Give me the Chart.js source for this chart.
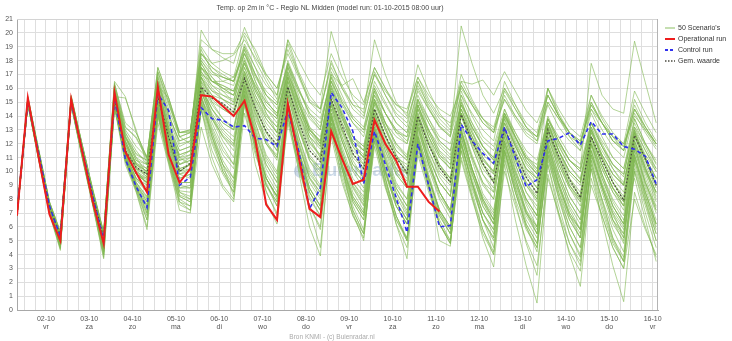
<!DOCTYPE html>
<html>
<head>
<meta charset="utf-8">
<script src="https://cdn.jsdelivr.net/npm/chart.js@4.4.1/dist/chart.umd.min.js"></script>
<style>
  html, body { margin: 0; padding: 0; background: #fff; }
  canvas { display: block; }
</style>
</head>
<body>
<canvas id="ens" width="732" height="341"></canvas>
<script>
// uren sinds 01-10 00:00 (stappen van 6 uur, model run 08:00)
const hours = [8,14,20,26,32,38,44,50,56,62,68,74,80,86,92,98,104,110,116,122,128,134,140,146,152,158,164,170,176,182,
  188,194,200,206,212,218,224,230,236,242,248,254,260,266,272,278,284,290,296,302,308,314,320,326,332,338,344,350,356,362];

const dayHours = [24,48,72,96,120,144,168,192,216,240,264,288,312,336,360];
const dayDates = ['02-10','03-10','04-10','05-10','06-10','07-10','08-10','09-10','10-10','11-10','12-10','13-10','14-10','15-10','16-10'];
const dayNames = ['vr','za','zo','ma','di','wo','do','vr','za','zo','ma','di','wo','do','vr'];

const operational = [6.8,15.3,11.0,6.9,5.0,15.2,11.5,7.8,4.8,15.7,11.4,9.9,8.5,16.1,11.2,9.2,10.2,15.5,15.4,14.7,
  14.0,15.1,12.3,7.6,6.5,14.9,11.0,7.3,6.7,12.9,10.9,9.1,9.4,13.7,12.0,10.8,8.9,8.9,7.8,7.1];

const control = [7.0,15.0,11.3,7.5,5.3,15.0,11.6,8.2,5.0,15.3,10.9,8.9,7.4,15.6,14.4,9.0,9.6,14.6,13.8,13.7,
  13.2,13.3,12.4,12.3,11.8,14.4,11.5,7.3,8.8,15.7,14.6,12.9,9.1,12.9,10.5,8.1,5.6,12.0,9.0,6.0,
  6.1,13.4,12.2,11.3,10.6,13.2,11.0,8.9,9.4,12.2,12.4,12.8,11.9,13.6,12.7,12.7,11.8,11.6,11.1,9.1];

const mean = [6.9,15.1,11.3,7.4,5.4,15.0,11.6,8.2,5.2,15.3,11.5,10.3,9.8,15.4,12.5,10.0,10.6,16.1,15.3,14.9,
  14.3,16.7,14.6,12.9,11.9,16.1,13.6,11.5,10.7,15.2,13.3,11.3,10.2,14.5,12.6,11.0,9.9,14.0,11.9,10.3,
  9.2,14.1,12.2,10.6,9.2,13.1,11.3,9.6,8.4,13.0,11.1,9.4,8.1,12.5,10.8,9.2,7.9,12.6,10.9,9.0];

// 50 scenario's
const scenarios = [
  [6.9,15.2,11.3,7.5,5.3,15.2,11.7,8.2,5.2,15.6,12.0,10.6,10.2,16.0,13.2,11.5,11.8,17.5,16.8,16.0,15.5,18.2,16.0,14.5,13.8,17.6,15.2,13.0,12.2,16.5,14.2,12.5,11.8,15.8,13.5,12.0,11.0,15.2,13.0,11.4,10.5,15.0,13.2,11.8,10.8,14.2,12.4,10.8,9.8,13.8,11.9,10.4,9.4,13.5,11.8,10.2,9.0,13.2,11.5,10.0],
  [6.8,15.0,11.0,7.2,4.9,14.9,11.4,7.9,4.6,15.0,11.2,9.2,8.1,14.6,11.5,8.8,9.0,15.2,13.8,12.6,11.9,15.6,12.8,10.5,9.2,14.8,12.0,9.6,8.5,13.9,11.2,8.9,7.6,13.1,10.8,8.5,7.0,12.6,10.2,8.0,6.6,12.9,10.8,8.4,7.2,12.0,9.8,7.6,6.0,11.8,9.6,7.3,5.8,11.2,9.0,7.0,5.2,11.5,9.2,7.4],
  [7.0,15.3,11.4,7.6,5.5,15.3,11.8,8.4,5.4,16.0,12.5,11.3,10.8,16.8,14.0,12.2,12.5,20.2,18.8,18.2,17.8,20.4,18.5,16.8,15.5,19.2,17.0,15.0,14.2,18.0,16.0,14.5,13.8,17.2,15.5,14.0,13.2,16.5,14.6,13.3,12.6,16.2,14.8,13.5,12.8,15.2,13.8,12.6,12.0,14.8,13.2,12.2,11.5,14.5,13.0,11.8,11.0,14.2,12.8,11.6],
  [6.9,15.1,11.2,7.4,5.0,15.0,11.5,8.0,4.8,15.2,11.4,9.8,9.5,15.8,12.8,10.5,10.8,16.5,15.5,15.2,14.8,17.0,14.8,12.8,11.5,16.2,13.5,11.0,10.2,15.0,12.8,10.8,9.5,14.2,12.0,10.2,9.3,13.8,11.5,9.6,8.5,14.5,12.5,10.5,9.4,13.2,11.0,9.2,8.0,12.8,10.8,9.0,7.8,12.4,10.5,8.8,7.5,12.2,10.3,8.5],
  [6.8,14.9,10.9,7.0,4.4,14.8,11.1,7.6,3.8,14.7,10.8,8.6,6.0,14.0,10.6,7.6,7.2,14.5,11.5,9.8,8.5,15.0,11.5,8.6,6.8,14.0,10.5,7.5,6.0,13.2,10.2,7.2,5.5,12.8,9.5,6.8,5.0,12.2,9.0,6.2,4.8,12.0,9.2,6.5,4.5,11.5,8.5,6.0,4.2,11.2,8.2,5.5,3.8,10.8,8.0,5.2,3.5,10.5,7.8,5.0],
  [7.0,15.2,11.5,7.8,5.6,15.4,11.9,8.6,5.5,16.4,13.2,12.4,10.9,17.2,15.0,12.8,12.9,18.8,17.2,16.5,16.2,19.0,17.0,15.2,14.0,17.8,15.5,13.2,12.0,16.8,14.5,12.0,11.2,16.0,14.2,12.8,12.5,15.5,13.8,12.2,11.5,15.8,14.0,12.5,11.8,14.5,12.8,11.2,10.2,14.0,12.2,10.8,10.0,13.5,11.8,10.5,9.6,13.8,12.0,10.6],
  [6.9,15.0,11.1,7.3,5.1,15.1,11.6,8.1,5.0,15.4,15.3,13.0,10.5,16.2,15.3,12.5,12.0,17.0,16.5,16.2,15.8,17.8,16.2,14.8,14.0,16.8,14.5,12.5,11.6,15.5,13.8,12.2,11.5,15.0,13.5,12.5,12.0,14.5,13.0,11.8,11.0,14.2,12.5,11.2,10.5,13.5,12.0,10.6,9.8,13.2,11.8,10.4,9.5,13.0,11.5,10.2,9.2,12.8,11.2,10.0],
  [6.8,15.0,11.0,7.2,4.6,14.9,11.3,7.8,4.2,15.0,11.0,9.0,7.0,14.5,11.2,8.5,8.0,15.5,12.5,10.0,8.5,15.8,12.0,9.2,7.5,14.2,10.0,6.0,3.9,13.0,9.5,6.8,5.2,12.2,9.0,6.5,5.0,12.0,8.8,6.2,4.8,12.5,9.5,7.0,5.5,12.8,10.2,8.0,6.8,13.0,10.8,9.0,8.0,12.5,10.5,8.8,7.5,12.0,10.0,8.4],
  [7.0,15.3,11.3,7.5,5.2,15.2,11.8,8.3,5.3,15.8,12.5,11.0,9.8,16.5,13.5,11.0,10.5,18.0,16.8,15.8,15.0,18.8,16.5,14.2,12.8,17.5,15.0,12.5,11.0,16.2,14.0,11.8,10.5,15.2,13.2,11.2,9.8,14.8,12.5,10.5,9.2,15.2,13.0,11.0,9.8,14.0,12.0,10.0,8.8,13.5,11.5,9.5,8.2,13.0,11.0,9.2,8.0,12.8,10.8,9.0],
  [6.9,15.1,11.2,7.5,5.2,15.0,11.5,8.0,5.0,15.0,11.3,9.5,9.0,15.5,12.0,10.0,10.5,16.8,15.5,14.8,14.2,17.2,15.2,13.5,12.5,16.5,14.2,12.5,11.8,17.0,16.2,16.7,15.0,17.5,16.0,14.5,13.8,16.2,14.8,13.5,12.8,16.5,16.3,16.6,15.5,17.2,15.8,14.4,13.5,15.5,14.0,12.8,12.0,14.8,13.5,12.2,11.5,14.5,13.2,12.0],
  [6.8,14.9,10.9,7.1,4.6,15.0,11.3,7.8,4.5,15.0,11.0,9.2,7.8,14.8,11.5,9.0,8.8,15.8,13.5,11.8,10.5,16.0,12.5,9.5,8.2,15.2,11.5,8.5,7.2,14.0,10.8,8.2,7.0,13.2,10.0,7.5,6.2,12.5,9.2,6.8,5.5,11.8,8.5,5.8,4.2,10.5,6.5,3.2,0.5,9.8,6.8,4.2,2.8,10.2,7.2,4.8,3.5,10.8,8.0,5.5],
  [7.0,15.2,11.4,7.6,5.4,15.2,11.7,8.3,5.2,15.5,12.0,10.2,9.0,15.2,12.2,9.8,9.5,16.2,14.0,12.5,11.8,16.5,13.5,11.2,10.0,15.5,12.5,10.2,9.0,14.5,11.8,9.5,8.5,13.8,11.2,9.0,8.0,13.2,10.5,8.2,7.0,12.5,9.8,7.5,6.2,11.5,8.8,6.2,4.8,10.5,7.0,4.0,1.7,9.5,6.8,4.5,3.0,10.0,7.5,5.0],
  [6.9,15.1,11.2,7.3,5.0,15.1,11.5,8.0,4.9,15.2,11.5,9.8,9.2,15.6,12.5,10.5,10.8,16.8,15.0,13.8,13.0,17.0,14.5,12.0,10.8,16.0,13.2,10.8,9.5,14.8,12.2,10.0,8.8,14.0,11.5,9.2,8.0,13.5,10.8,8.5,7.2,13.0,10.2,8.0,6.5,12.2,9.5,7.2,5.5,11.5,8.5,6.0,4.5,10.2,6.5,3.2,0.6,8.5,6.0,3.8],
  [6.9,15.2,11.3,7.4,5.2,15.2,11.6,8.2,5.1,15.5,12.2,10.5,9.8,16.2,13.0,11.2,11.5,17.2,16.0,15.2,14.5,17.5,15.5,13.8,12.8,16.8,14.5,12.8,12.0,16.0,14.0,12.5,11.5,15.2,13.5,12.0,11.2,14.8,13.0,11.5,10.8,14.5,12.8,11.5,10.5,14.0,12.5,11.0,10.0,13.8,12.2,10.8,10.2,17.8,15.5,14.5,14.2,19.4,16.4,13.5],
  [7.0,15.3,11.5,7.7,5.5,15.3,11.9,8.5,5.5,16.2,12.8,11.5,10.5,16.5,14.2,12.0,12.2,18.5,17.5,16.8,16.5,19.2,17.5,15.5,14.5,18.0,16.0,14.0,13.0,17.2,15.5,13.8,13.0,16.5,15.0,13.5,12.8,16.0,14.5,13.2,12.5,20.5,17.8,15.5,14.2,16.0,14.5,13.2,12.5,15.5,14.0,12.8,12.0,15.0,13.5,12.5,11.8,14.8,13.2,12.0],
  [6.9,15.2,11.4,7.6,5.3,15.3,11.8,8.4,5.3,15.8,12.5,10.8,10.5,16.8,14.5,12.5,12.8,19.0,17.8,17.2,16.8,19.8,18.0,16.5,15.2,19.5,17.2,15.5,14.5,20.1,17.5,15.2,14.2,19.5,17.0,15.0,14.0,17.7,15.8,14.2,13.2,17.0,15.2,13.8,12.8,16.5,14.8,13.2,12.2,16.0,14.2,12.8,11.8,15.5,13.8,12.5,11.5,15.2,13.5,12.2],
  [6.8,14.9,11.0,7.1,4.5,14.9,11.2,7.6,4.0,14.8,10.8,8.8,6.5,14.2,10.8,8.0,7.5,14.8,12.2,10.2,9.0,15.2,11.8,9.0,7.5,14.5,11.0,8.2,6.8,13.5,10.2,7.5,5.8,12.8,9.5,6.8,5.0,12.0,8.8,6.2,4.8,11.5,8.2,5.2,3.1,10.8,8.0,5.8,4.5,11.2,8.5,6.5,5.2,11.5,9.0,7.0,5.8,11.8,9.2,7.2],
  [6.8,15.0,11.0,7.2,4.8,14.9,11.3,7.8,4.5,15.0,11.2,9.0,8.0,14.9,11.8,9.2,9.2,15.8,13.8,12.2,11.0,16.0,12.8,10.2,8.8,14.8,11.5,8.8,7.5,13.8,10.5,7.8,6.5,12.8,9.5,6.2,3.7,12.5,9.5,7.0,5.5,13.0,10.2,8.0,6.8,12.5,10.0,8.0,6.8,12.2,9.8,7.8,6.5,12.0,9.5,7.5,6.2,11.8,9.2,7.2],
  [6.9,15.1,11.1,7.3,5.0,15.0,11.4,7.9,4.7,15.1,11.2,9.4,8.5,15.0,12.0,9.5,9.8,16.0,14.2,13.0,12.2,16.2,13.5,11.0,9.8,15.0,12.2,9.8,8.8,14.2,11.5,9.2,8.2,13.5,10.8,8.5,7.2,12.5,9.2,5.0,4.6,12.8,10.0,7.5,6.2,12.0,9.5,7.2,6.0,11.8,9.2,7.0,5.8,11.5,9.0,6.8,5.5,11.2,8.8,6.5],
  [7.0,15.2,11.3,7.5,5.2,15.1,11.6,8.1,5.0,15.3,11.6,10.0,9.2,15.3,12.2,9.8,10.2,16.4,14.8,13.8,13.2,16.8,14.2,12.2,11.0,15.8,13.0,10.8,9.8,14.8,12.2,10.2,9.2,14.2,11.8,9.8,8.8,13.8,11.2,9.2,8.2,13.5,11.0,9.0,8.0,12.8,10.5,8.5,7.5,12.5,10.2,8.2,7.0,12.0,9.8,7.8,6.5,9.5,6.5,3.5],
  [7.0,15.4,11.6,7.8,5.7,15.5,12.0,8.7,5.6,16.5,15.4,12.8,11.0,17.5,15.3,12.8,13.0,18.5,17.8,18.0,18.4,19.5,18.2,17.0,16.0,18.5,16.8,15.0,14.5,17.5,16.0,14.8,14.5,17.0,15.8,14.8,14.5,16.8,15.5,14.5,14.0,16.0,14.8,13.8,13.0,15.2,14.0,13.0,12.5,15.0,13.8,12.8,12.2,14.5,13.5,12.5,12.0,14.0,13.0,12.0],
  [6.8,15.0,11.1,7.3,4.9,15.0,11.4,7.9,4.8,15.1,11.3,9.5,8.8,15.2,12.0,9.8,10.0,16.0,14.0,12.8,12.0,16.5,14.0,12.0,11.2,16.8,14.2,12.2,11.0,15.0,12.5,10.5,9.5,14.0,11.8,10.0,9.0,13.5,11.0,9.2,8.2,14.2,11.8,9.8,8.5,13.0,10.8,9.0,7.8,12.8,10.5,8.8,7.5,12.2,10.2,8.5,7.2,12.0,10.0,8.2],
  [6.9,15.0,11.0,7.2,4.7,14.9,11.2,7.7,4.4,14.9,10.9,8.9,7.2,14.3,11.0,8.2,7.8,15.0,12.8,10.5,9.2,14.8,10.5,7.8,6.2,13.8,10.5,8.0,6.8,13.0,10.2,7.8,6.5,12.5,9.8,7.5,6.2,12.2,9.5,7.2,6.0,12.0,9.2,7.0,5.8,11.5,9.0,6.8,5.5,11.2,8.8,6.5,5.2,11.0,8.5,6.2,5.0,10.8,8.2,6.0],
  [7.0,15.3,11.4,7.6,5.4,15.3,11.8,8.4,5.4,15.6,12.2,10.5,10.0,16.0,13.0,11.0,11.2,17.8,16.5,16.0,15.5,18.0,16.0,14.5,13.5,17.2,15.0,13.0,12.0,15.8,13.8,12.0,11.0,15.0,13.0,11.2,10.2,14.2,12.2,10.5,9.5,14.0,12.0,10.2,9.2,13.2,11.2,9.5,8.5,13.0,11.0,9.2,8.2,12.5,10.5,8.8,7.8,12.5,10.5,8.8],
  [6.8,14.9,10.9,7.0,4.5,14.9,11.2,7.7,4.3,14.8,10.8,8.7,6.8,14.2,10.9,7.8,7.2,13.2,10.5,8.8,7.8,14.2,11.2,9.0,7.8,14.5,11.5,9.2,8.0,14.0,11.2,9.0,7.8,13.2,10.8,8.8,7.5,13.0,10.5,8.5,7.2,12.8,10.2,8.2,7.0,12.2,9.8,7.8,6.5,12.0,9.5,7.5,6.2,11.8,9.2,7.2,6.0,11.5,9.0,7.0],
  [6.9,15.1,11.2,7.4,5.1,15.1,11.6,8.1,5.1,15.3,11.8,10.2,9.8,15.8,12.5,10.5,11.0,17.0,15.8,15.5,15.2,17.5,15.5,14.0,13.2,16.5,14.5,12.8,11.8,15.5,13.5,12.0,11.0,14.5,12.5,11.0,10.0,14.0,12.0,10.5,9.5,14.2,12.2,10.5,9.2,13.5,11.5,9.8,8.8,13.2,11.2,9.5,8.5,12.8,11.0,9.2,8.2,12.5,10.8,9.0],
  [7.0,15.2,11.4,7.6,5.5,15.3,11.9,8.5,5.4,15.9,12.8,11.2,10.8,16.5,14.0,12.2,12.5,18.5,17.5,17.0,16.5,19.0,17.5,16.2,15.5,19.5,18.0,16.5,15.5,18.5,16.8,15.5,14.8,17.5,16.0,14.8,14.2,16.8,15.2,14.0,13.5,16.5,15.0,13.8,13.2,15.8,14.5,13.2,12.5,15.5,14.0,12.8,12.2,15.0,13.5,12.2,11.5,14.5,13.0,11.8],
  [6.8,14.9,11.0,7.1,4.6,14.9,11.3,7.8,4.4,14.8,10.9,8.8,7.5,14.5,11.2,8.5,8.2,15.2,12.8,10.8,9.5,15.5,11.8,9.0,7.8,14.0,10.5,7.2,4.5,12.5,9.2,6.8,5.5,11.8,8.8,6.5,5.2,11.2,8.5,6.2,5.0,10.8,8.0,5.5,4.0,10.0,7.5,5.0,3.2,9.5,7.0,4.8,3.5,9.0,6.8,4.5,3.0,8.0,5.8,4.0],
  [6.9,15.2,11.3,7.5,5.3,15.2,11.7,8.2,5.2,15.4,12.0,10.4,9.6,15.9,12.8,10.8,11.2,17.2,16.2,15.8,15.5,17.8,15.8,14.5,13.8,17.0,14.8,13.0,12.2,15.0,13.0,11.5,10.8,14.5,12.5,11.0,10.5,14.8,12.8,11.2,10.2,15.5,13.5,11.8,10.8,14.2,12.2,10.5,9.5,13.5,11.5,10.0,9.2,13.2,11.2,9.8,9.0,13.0,11.0,9.5],
  [6.8,15.0,11.1,7.3,5.0,15.0,11.5,8.0,4.9,15.2,11.5,9.8,9.2,15.5,12.5,10.2,10.5,16.5,15.0,14.5,14.0,16.8,14.5,12.8,11.8,15.8,13.2,11.2,10.2,14.8,12.5,10.5,9.8,14.2,12.0,10.2,9.5,13.8,11.5,9.8,9.0,13.2,11.0,9.2,8.5,12.8,10.8,9.0,8.0,12.5,10.5,8.8,7.8,12.0,10.2,8.5,7.5,12.2,10.2,8.5],
  [6.8,14.8,10.8,6.9,4.3,14.8,11.0,7.5,3.7,14.6,10.5,8.5,5.8,13.5,10.5,7.2,7.0,15.0,12.5,10.5,8.2,15.2,12.0,9.5,8.2,14.8,11.8,9.5,8.5,14.2,11.5,9.2,8.0,13.8,11.0,8.8,7.5,13.2,10.5,8.5,7.0,12.8,10.2,8.0,6.5,12.5,10.0,8.0,6.8,12.2,9.8,7.8,6.5,12.0,9.5,7.5,6.2,11.8,9.5,7.5],
  [7.0,15.3,11.5,7.7,5.6,15.4,12.0,8.6,5.6,16.0,13.0,11.8,11.0,17.0,14.8,12.8,13.0,18.2,17.2,16.8,16.5,18.5,16.8,15.5,14.8,17.8,16.0,14.2,13.5,16.5,14.8,13.5,12.8,15.8,14.2,13.0,12.5,15.2,13.8,12.5,12.0,14.8,13.5,12.2,11.5,14.2,12.8,11.5,10.8,13.8,12.5,11.2,10.5,13.5,12.2,11.0,10.2,13.2,12.0,10.8],
  [6.9,15.1,11.2,7.4,5.2,15.1,11.6,8.2,5.2,15.3,11.6,10.0,9.5,15.4,12.3,10.0,10.5,16.2,14.5,13.5,13.0,16.5,14.2,12.5,11.5,16.0,13.8,11.8,10.8,15.2,13.0,11.0,10.2,14.8,12.5,10.5,9.8,14.2,12.0,10.0,9.2,14.0,11.8,9.8,8.8,13.2,11.0,9.2,8.2,13.0,10.8,9.0,8.0,12.5,10.5,8.8,7.8,12.2,10.2,8.5],
  [7.0,15.3,11.5,7.7,5.5,15.4,11.9,8.6,5.5,16.3,13.5,12.8,11.0,17.5,15.3,12.8,12.8,17.8,16.5,16.5,16.8,18.5,17.0,15.5,14.8,17.5,15.8,14.5,13.8,16.5,15.0,13.8,13.0,15.5,14.2,13.0,12.2,15.0,13.5,12.2,11.5,14.8,13.2,11.8,11.0,14.0,12.5,11.0,10.5,13.5,12.0,10.8,10.2,13.2,11.8,10.5,9.8,13.0,11.5,10.2],
  [6.8,15.0,11.0,7.2,4.8,15.0,11.3,7.8,4.6,15.0,11.1,9.2,8.2,14.8,11.6,9.2,9.2,15.8,13.8,12.5,11.5,16.2,13.0,10.5,9.2,15.0,12.0,9.5,8.2,13.8,10.2,7.0,5.0,12.8,10.0,7.8,6.5,12.2,9.5,7.2,6.0,12.5,9.8,7.8,6.5,11.8,9.2,7.0,5.8,11.5,9.0,6.8,5.5,11.2,8.8,6.5,5.2,11.0,8.5,6.2],
  [6.9,15.2,11.3,7.5,5.3,15.2,11.7,8.3,5.2,15.5,12.0,10.5,10.0,16.0,13.0,11.0,11.5,17.5,16.5,16.2,15.8,18.5,16.5,15.0,14.2,17.2,15.0,13.2,12.5,16.2,14.2,12.5,11.8,15.5,13.5,11.8,11.0,14.8,12.8,11.2,10.5,14.5,12.5,10.8,10.0,13.8,11.8,10.2,9.2,13.5,11.5,9.8,9.0,13.0,11.0,9.5,8.5,12.8,10.8,9.2],
  [6.9,15.1,11.3,7.4,5.2,15.1,11.6,8.2,5.1,15.3,11.5,10.3,9.8,15.4,12.5,10.0,10.6,16.1,15.3,14.9,14.3,16.7,14.6,12.9,11.9,16.1,13.6,11.5,10.7,15.2,13.3,11.3,10.2,14.5,12.6,11.0,9.9,14.0,11.9,10.3,9.2,14.1,12.2,10.6,9.2,13.1,11.3,9.6,8.4,13.0,11.1,9.4,8.1,12.5,10.8,9.2,7.9,12.6,10.9,9.0],
  [6.8,15.0,11.0,7.2,4.8,14.9,11.3,7.8,4.5,15.0,11.0,9.0,7.8,14.6,11.4,8.8,8.8,15.5,13.2,11.5,10.5,15.8,12.5,9.8,8.5,14.8,11.5,8.8,7.5,14.0,11.0,8.5,7.2,13.2,10.2,7.8,6.5,12.8,9.8,7.2,5.8,12.2,9.2,6.5,5.0,11.0,7.8,4.8,2.5,10.5,7.5,4.8,3.2,10.8,7.8,5.2,3.8,11.2,8.2,5.8],
  [7.0,15.2,11.4,7.6,5.4,15.3,11.8,8.5,5.3,15.7,12.4,10.8,10.2,16.4,13.5,11.5,11.8,17.5,16.5,16.0,15.8,18.0,16.2,15.0,14.2,17.0,15.2,13.8,13.0,16.8,15.2,14.0,13.2,16.2,14.8,13.5,12.8,15.8,14.5,13.2,12.5,15.5,14.2,13.0,12.2,16.0,14.8,13.5,12.8,16.0,14.5,13.2,12.5,15.5,14.0,12.8,12.0,15.8,14.2,12.8],
  [6.8,14.9,11.0,7.1,4.6,14.9,11.2,7.7,4.2,14.9,10.9,8.8,7.4,14.4,11.0,8.3,8.0,15.0,12.5,10.5,9.5,15.5,12.0,9.5,8.0,14.5,11.2,8.5,7.2,13.5,10.5,8.0,6.8,12.5,9.0,6.2,4.5,11.5,8.8,6.8,5.5,11.0,8.2,5.8,4.0,11.5,8.8,6.5,5.2,12.0,9.2,7.0,5.8,12.5,9.8,7.5,6.2,13.0,10.2,8.0],
  [6.9,15.1,11.2,7.4,5.1,15.0,11.5,8.0,5.0,15.2,11.4,9.8,9.4,15.6,12.5,10.2,10.5,16.8,15.2,14.5,14.0,17.2,15.0,13.2,12.2,16.2,14.0,12.0,11.2,15.2,13.0,11.2,10.5,14.5,12.2,10.5,9.8,14.0,12.0,10.2,9.5,14.8,12.8,11.0,10.0,14.5,12.5,10.8,9.8,16.0,14.0,12.5,11.5,14.2,12.5,11.0,10.2,13.8,12.0,10.5],
  [6.8,15.0,11.0,7.2,4.7,14.9,11.3,7.8,4.5,14.9,11.0,9.0,7.6,14.6,11.3,8.6,8.5,15.4,13.0,11.2,10.2,15.5,12.2,9.5,8.2,14.5,11.2,8.5,7.2,13.5,10.5,8.0,6.8,13.0,10.0,7.5,6.2,12.5,9.5,7.0,5.8,12.0,9.0,6.5,5.2,11.5,8.5,6.0,4.5,11.0,8.0,5.5,4.0,10.5,7.5,5.0,3.5,10.0,7.0,4.5],
  [7.0,15.3,11.4,7.6,5.5,15.3,11.8,8.4,5.4,15.8,12.6,11.0,10.5,16.5,13.8,11.8,12.2,18.0,17.0,16.8,16.5,18.8,17.0,15.8,15.0,17.8,15.8,14.2,13.2,17.0,15.0,13.5,12.5,16.0,14.2,12.8,12.0,15.2,13.5,12.0,11.2,15.0,13.2,11.8,11.0,14.2,12.5,11.0,10.2,13.8,12.2,10.8,10.0,13.5,12.0,10.5,9.8,13.5,11.8,10.2],
  [6.9,15.1,11.2,7.4,5.1,15.1,11.5,8.1,5.0,15.2,11.5,9.8,9.2,15.5,12.2,10.0,10.2,16.0,14.5,13.5,13.0,16.2,13.8,12.0,11.0,15.5,13.0,11.0,10.0,14.5,12.2,10.2,9.2,13.8,11.5,9.8,8.8,13.2,11.0,9.2,8.2,13.5,11.2,9.2,8.0,12.8,10.5,8.5,7.2,12.5,10.2,8.2,7.0,12.0,9.8,8.0,6.8,11.8,9.8,7.8],
  [6.8,15.0,11.1,7.3,4.9,15.0,11.4,7.9,4.7,15.1,11.2,9.5,8.6,15.0,11.8,9.5,9.8,16.0,14.5,13.2,12.5,16.2,13.2,10.8,9.5,15.5,12.5,10.0,8.8,14.2,11.2,8.8,7.5,13.5,10.5,8.2,6.8,13.5,10.8,8.5,7.2,13.0,10.2,7.8,6.2,12.2,9.5,7.0,5.5,11.8,9.0,6.8,5.2,11.5,8.8,6.5,4.8,11.2,8.5,6.2],
  [7.0,15.2,11.4,7.6,5.4,15.2,11.7,8.3,5.3,15.6,12.2,10.6,10.0,16.2,13.2,11.2,11.5,17.5,16.2,15.5,15.0,17.8,15.8,14.2,13.2,16.8,14.8,13.0,12.2,16.0,14.0,12.2,11.5,15.2,13.2,11.5,10.8,14.5,12.5,11.0,10.2,14.2,12.2,10.8,10.0,13.5,11.8,10.2,9.5,13.2,11.5,10.0,9.2,12.8,11.2,9.8,9.0,12.5,11.0,9.5],
  [7.0,15.4,11.6,7.8,5.6,15.4,12.0,8.7,5.6,16.2,13.2,12.5,11.0,17.2,15.0,12.5,12.8,19.5,18.8,18.5,18.5,20.0,18.8,17.0,16.0,18.8,17.0,15.2,14.5,17.8,16.2,14.8,14.0,17.0,15.5,14.2,13.5,16.5,15.0,13.8,13.0,16.2,14.8,13.5,12.8,15.5,14.0,12.8,12.2,15.0,13.8,12.5,12.0,14.8,13.5,12.2,11.8,14.5,13.2,12.0],
  [6.8,14.9,10.9,7.0,4.5,14.8,11.1,7.6,4.0,14.7,10.7,8.6,6.5,14.0,10.7,7.8,7.5,14.5,12.0,10.0,8.8,15.0,11.5,8.5,7.0,13.5,10.2,7.5,5.8,12.8,9.8,7.2,5.5,12.2,9.2,6.8,5.2,11.8,9.0,6.5,5.0,11.5,8.8,6.5,5.2,11.2,8.5,6.2,4.8,10.8,8.2,6.0,4.5,10.5,8.0,5.8,4.2,10.2,7.8,5.5],
  [6.9,15.2,11.3,7.5,5.2,15.2,11.7,8.2,5.1,15.4,11.8,10.2,9.6,15.8,12.8,10.8,11.0,16.8,15.8,15.2,14.8,17.2,15.2,13.8,12.8,16.5,14.2,12.2,11.2,15.8,13.5,11.8,11.0,15.0,13.0,11.5,10.8,14.5,12.5,11.0,10.2,14.2,12.2,10.5,9.8,13.8,11.8,10.2,9.5,13.5,11.5,10.0,9.2,13.0,11.2,9.8,9.0,12.8,11.0,9.5],
  [6.8,14.9,11.0,7.1,4.6,14.9,11.2,7.7,4.3,14.8,10.8,8.8,7.0,14.2,11.0,8.2,7.8,14.5,11.0,9.0,8.0,15.0,11.8,9.5,8.2,14.2,11.2,8.8,7.5,13.2,10.5,8.2,7.0,12.5,10.0,7.8,6.5,12.2,9.5,7.2,6.0,12.0,9.2,7.0,5.8,11.8,9.2,7.0,6.0,11.5,9.0,6.8,5.8,11.2,8.8,6.5,5.5,11.0,8.5,6.2]
];

// rasterlijnen om de 6 uur
const gridHours = [];
for (let h = 12; h <= 360; h += 6) gridHours.push(h);

const toPoints = arr => arr.map((v, i) => ({ x: hours[i], y: v }));
const baseFont = "'Liberation Sans', Arial, sans-serif";

const datasets = [
  { label: 'Operational run', data: toPoints(operational), borderColor: '#ee1d1d', borderWidth: 2 },
  { label: 'Control run', data: toPoints(control), borderColor: '#3030ee', borderWidth: 1.6, borderDash: [4, 3] },
  { label: 'Gem. waarde', data: toPoints(mean), borderColor: '#4b4b40', borderWidth: 1.3, borderDash: [1.5, 2] }
];
scenarios.forEach((s, i) => {
  datasets.push({ label: 'Scenario ' + (i + 1), data: toPoints(s), borderColor: 'rgba(128,184,82,0.6)', borderWidth: 1 });
});

// titel, legenda, voetregel en watermerk
const decorations = {
  id: 'decorations',
  beforeDatasetsDraw(chart) {
    const ctx = chart.ctx;
    ctx.save();
    ctx.fillStyle = 'rgba(110,145,190,0.35)';
    ctx.beginPath();
    ctx.arc(301, 171, 7, 0, Math.PI * 2);
    ctx.fill();
    ctx.font = "bold 19px " + baseFont;
    ctx.textBaseline = 'middle';
    ctx.fillText('Buienradar', 312, 171);
    ctx.restore();
  },
  afterDraw(chart) {
    const ctx = chart.ctx;
    const a = chart.chartArea;
    ctx.save();
    // kader boven en rechts
    ctx.strokeStyle = '#d4d4d4';
    ctx.lineWidth = 1;
    ctx.beginPath();
    ctx.moveTo(a.left, a.top + 0.5);
    ctx.lineTo(a.right, a.top + 0.5);
    ctx.stroke();
    ctx.strokeStyle = '#b4b4b4';
    ctx.beginPath();
    ctx.moveTo(a.right - 0.5, a.top);
    ctx.lineTo(a.right - 0.5, a.bottom);
    ctx.stroke();

    ctx.fillStyle = '#444';
    ctx.font = "7px " + baseFont;
    ctx.textAlign = 'center';
    ctx.textBaseline = 'middle';
    ctx.fillText('Temp. op 2m in \u00b0C - Regio NL Midden (model run: 01-10-2015 08:00 uur)', 330, 8);

    ctx.fillStyle = '#aaa';
    ctx.font = "6.5px " + baseFont;
    ctx.fillText('Bron KNMI - (c) Buienradar.nl', 332, 337);

    const items = [
      { text: "50 Scenario's", color: 'rgba(128,184,82,0.9)', width: 1, dash: [] },
      { text: 'Operational run', color: '#ee1d1d', width: 2, dash: [] },
      { text: 'Control run', color: '#3030ee', width: 2, dash: [3, 2] },
      { text: 'Gem. waarde', color: '#4b4b40', width: 1.3, dash: [1.5, 1.5] }
    ];
    ctx.textAlign = 'left';
    ctx.font = "7px " + baseFont;
    items.forEach((it, i) => {
      const y = 28 + i * 11;
      ctx.strokeStyle = it.color;
      ctx.lineWidth = it.width;
      ctx.setLineDash(it.dash);
      ctx.beginPath();
      ctx.moveTo(665, y);
      ctx.lineTo(675, y);
      ctx.stroke();
      ctx.setLineDash([]);
      ctx.fillStyle = '#333';
      ctx.fillText(it.text, 678, y);
    });
    ctx.restore();
  }
};

new Chart(document.getElementById('ens'), {
  type: 'line',
  data: { datasets: datasets },
  options: {
    responsive: false,
    animation: false,
    events: [],
    devicePixelRatio: 1,
    layout: { padding: { top: 19, right: 74, left: 0, bottom: 0 } },
    elements: { point: { radius: 0 }, line: { tension: 0, fill: false } },
    plugins: { legend: { display: false }, tooltip: { enabled: false }, title: { display: false } },
    scales: {
      x: {
        type: 'linear',
        min: 8,
        max: 363,
        afterBuildTicks: s => { s.ticks = gridHours.map(v => ({ value: v })); },
        afterFit: s => { s.height = 31; },
        grid: { color: '#dedede', drawTicks: false },
        border: { color: '#a8a8a8' },
        ticks: {
          autoSkip: false,
          maxRotation: 0,
          padding: 5,
          color: '#555',
          font: { size: 7, family: baseFont, lineHeight: 1.15 },
          callback: v => {
            const k = dayHours.indexOf(v);
            return k < 0 ? '' : [dayDates[k], dayNames[k]];
          }
        }
      },
      y: {
        min: 0,
        max: 21,
        afterFit: s => { s.width = 17; },
        grid: { color: '#dedede', drawTicks: false },
        border: { color: '#a8a8a8' },
        ticks: { stepSize: 1, padding: 4, color: '#555', font: { size: 7, family: baseFont } }
      }
    }
  },
  plugins: [decorations]
});
</script>
</body>
</html>
